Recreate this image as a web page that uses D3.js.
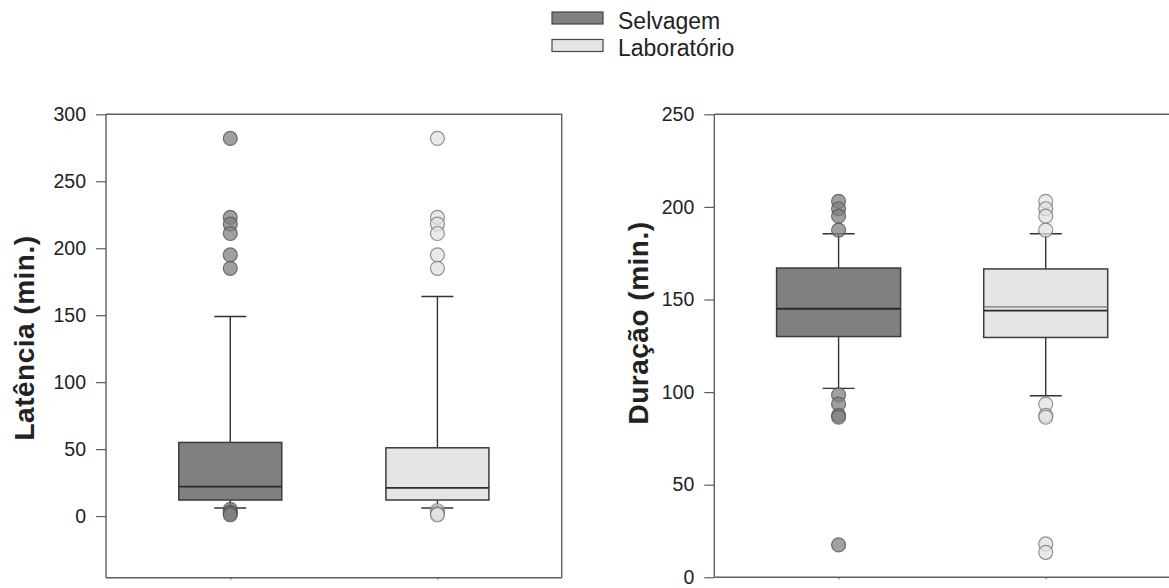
<!DOCTYPE html>
<html><head><meta charset="utf-8">
<script src="https://cdn.jsdelivr.net/npm/d3@7"></script>
<style>body{margin:0;background:#fff}svg{display:block}</style>
</head><body>
<svg id="c" width="1169" height="588"></svg>
<script>
// ---- data ----
const categories = ["Selvagem", "Laboratório"];

// Latência (min.)
const latQ1 = [12, 12];
const latMedian = [22, 21];
const latQ3 = [55, 51];
const latWhiskerLow = [6, 6];
const latWhiskerHigh = [149, 164];
const latOutliers = [
  [282, 223, 218, 211, 195, 185, 5, 3, 2, 1],
  [282, 223, 218, 211, 195, 185, 4, 2, 1]
];
const latTicks = [0, 50, 100, 150, 200, 250, 300];

// Duração (min.)
const durQ1 = [130, 129.5];
const durMedian = [145, 144];
const durMean = [null, 146];
const durQ3 = [167, 166.5];
const durWhiskerLow = [102, 98];
const durWhiskerHigh = [185.5, 185.5];
const durOutliers = [
  [203, 199, 195, 187.5, 98.5, 93.5, 87.5, 86.5, 17.5],
  [203, 199, 195, 187.5, 93.5, 87.5, 86.5, 18, 13.5]
];
const durTicks = [0, 50, 100, 150, 200, 250];

// ---- style ----
const FONT = "'Liberation Sans', Arial, Helvetica, sans-serif";
const boxFill = ["#808080", "#e5e4e7"];
const dotFill = ["#808080", "#e2e2e2"];
const dotStroke = ["#555", "#777"];
const axisCol = "#5e5e5e";
const svg = d3.select("#c");

function panel(opt) {
  const {x0, x1, top, bottom, domain, ticks, label, labelX, labelY, boxW,
         q1, med, mean, q3, wlo, whi, outl} = opt;
  const y = d3.scaleLinear().domain(domain).range([bottom, top]);
  const x = d3.scalePoint().domain(categories).range([x0, x1]).padding(0.6);
  const g = svg.append("g");

  // frame (top, right)
  g.append("path").attr("d", `M${x0},${top}H${x1}V${bottom}`)
    .attr("fill", "none").attr("stroke", axisCol).attr("stroke-width", 1.4);

  // y axis
  const ya = g.append("g").attr("transform", `translate(${x0},0)`)
    .call(d3.axisLeft(y).tickValues(ticks).tickSize(10).tickPadding(10).tickSizeOuter(0));
  ya.select(".domain").attr("stroke", axisCol).attr("stroke-width", 1.4)
    .attr("d", `M0,${top}V${bottom}`);
  ya.selectAll(".tick line").attr("stroke", axisCol).attr("stroke-width", 1.2);
  ya.selectAll(".tick text").attr("font-family", FONT).attr("font-size", 19.5).attr("fill", "#222");

  // x axis
  const xa = g.append("g").attr("transform", `translate(0,${bottom})`)
    .call(d3.axisBottom(x).tickSize(2).tickFormat(""));
  xa.select(".domain").attr("stroke", axisCol).attr("stroke-width", 1.4)
    .attr("d", `M${x0},0H${x1}`);
  xa.selectAll(".tick line").attr("stroke", axisCol);

  // y label
  g.append("text").attr("transform", `translate(${labelX},${labelY}) rotate(-90)`)
    .attr("text-anchor", "middle").attr("font-family", FONT).attr("font-weight", "bold")
    .attr("font-size", 28).attr("letter-spacing", 0.5).attr("fill", "#222").text(label);

  categories.forEach((c, i) => {
    const cx = x(c);
    const capW = 32;
    // whiskers
    g.append("line").attr("x1", cx).attr("x2", cx).attr("y1", y(q3[i])).attr("y2", y(whi[i]))
      .attr("stroke", "#333").attr("stroke-width", 1.4);
    g.append("line").attr("x1", cx).attr("x2", cx).attr("y1", y(q1[i])).attr("y2", y(wlo[i]))
      .attr("stroke", "#333").attr("stroke-width", 1.4);
    [whi[i], wlo[i]].forEach(v => {
      g.append("line").attr("x1", cx - capW / 2).attr("x2", cx + capW / 2)
        .attr("y1", y(v)).attr("y2", y(v)).attr("stroke", "#333").attr("stroke-width", 1.4);
    });
    // box
    g.append("rect").attr("x", cx - boxW / 2).attr("width", boxW)
      .attr("y", y(q3[i])).attr("height", y(q1[i]) - y(q3[i]))
      .attr("fill", boxFill[i]).attr("stroke", "#3c3c3c").attr("stroke-width", 1.5);
    if (mean && mean[i] != null) {
      g.append("line").attr("x1", cx - boxW / 2).attr("x2", cx + boxW / 2)
        .attr("y1", y(mean[i])).attr("y2", y(mean[i])).attr("stroke", "#777").attr("stroke-width", 1.2);
    }
    g.append("line").attr("x1", cx - boxW / 2).attr("x2", cx + boxW / 2)
      .attr("y1", y(med[i])).attr("y2", y(med[i])).attr("stroke", "#2a2a2a").attr("stroke-width", 1.8);
    // outliers
    g.selectAll(null).data(outl[i]).enter().append("circle")
      .attr("cx", cx).attr("cy", d => y(d)).attr("r", 7)
      .attr("fill", dotFill[i]).attr("fill-opacity", 0.75)
      .attr("stroke", dotStroke[i]).attr("stroke-opacity", 0.8).attr("stroke-width", 1.2);
  });
}

panel({x0: 106, x1: 561.7, top: 114.3, bottom: 577.7, domain: [-46, 300], ticks: latTicks,
  label: "Latência (min.)", labelX: 34, labelY: 338, boxW: 103,
  q1: latQ1, med: latMedian, mean: null, q3: latQ3, wlo: latWhiskerLow, whi: latWhiskerHigh, outl: latOutliers});

panel({x0: 714.3, x1: 1170, top: 114.3, bottom: 577.3, domain: [0, 250], ticks: durTicks,
  label: "Duração (min.)", labelX: 648, labelY: 323, boxW: 124,
  q1: durQ1, med: durMedian, mean: durMean, q3: durQ3, wlo: durWhiskerLow, whi: durWhiskerHigh, outl: durOutliers});

// legend
const leg = svg.append("g");
categories.forEach((c, i) => {
  leg.append("rect").attr("x", 552).attr("y", 12 + i * 27.5).attr("width", 51).attr("height", 12)
    .attr("fill", boxFill[i]).attr("stroke", "#444").attr("stroke-width", 1.2);
  leg.append("text").attr("x", 618).attr("y", 28.5 + i * 27.5)
    .attr("font-family", FONT).attr("font-size", 23).attr("fill", "#222").text(c);
});
</script>
</body></html>
